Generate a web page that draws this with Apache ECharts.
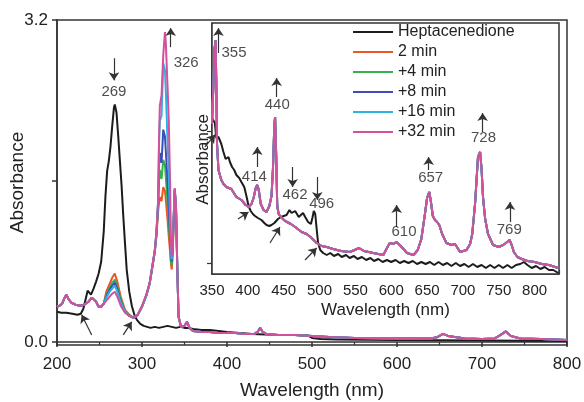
<!DOCTYPE html>
<html><head><meta charset="utf-8">
<script src="https://cdn.jsdelivr.net/npm/echarts@6/dist/echarts.min.js"></script>
<style>html,body{margin:0;padding:0;background:#fff}#c{width:584px;height:402px}</style>
</head><body><div id="c"></div>
<script>
// ---------------- DATA ----------------
const seriesNames = ['Heptacenedione', '2 min', '+4 min', '+8 min', '+16 min', '+32 min'];

// Main panel: Heptacenedione [nm, absorbance]
const mainBlack = [[200,0.30],[205,0.29],[211,0.29],[218,0.28],[224,0.27],[228,0.28],[231,0.33],[233,0.40],[236,0.51],[238,0.49],[240,0.47],[243,0.53],[246,0.60],[249,0.68],[252,0.80],[255,1.10],[257,1.45],[259,1.70],[261,1.80],[263,1.95],[265,2.15],[267,2.33],[268,2.36],[270,2.28],[272,2.05],[274,1.80],[276,1.55],[278,1.25],[280,0.98],[282,0.72],[285,0.50],[288,0.36],[291,0.27],[294,0.22],[298,0.18],[302,0.16],[306,0.15],[310,0.14],[315,0.15],[320,0.14],[325,0.15],[330,0.16],[335,0.15],[340,0.14],[345,0.15],[350,0.14],[355,0.14],[360,0.13],[370,0.12],[380,0.12],[400,0.10],[430,0.08],[460,0.07],[480,0.07],[495,0.065],[500,0.04],[510,0.03],[530,0.025],[600,0.02],[700,0.015],[800,0.01]];

// Main panel: irradiated spectra, shared short-wavelength part (curves overlap)
const mainColLeft = [[200,0.35],[203,0.36],[206,0.38],[209,0.44],[211,0.47],[214,0.42],[217,0.39],[222,0.37],[227,0.36],[232,0.37],[237,0.40],[241,0.44],[243,0.45],[246,0.40],[249,0.35],[252,0.35],[255,0.38]];
// per-series middle parts
const main2min = [[258,0.50],[262,0.58],[265,0.64],[268,0.68],[271,0.60],[275,0.45],[280,0.32],[285,0.27],[290,0.24],[295,0.27],[300,0.35],[305,0.46],[309,0.58],[312,0.73],[315,0.89],[317,1.05],[319,1.30],[320,1.38],[321,1.44],[323,1.40],[325,1.54],[327,1.50],[328,1.42],[330,1.22],[331.5,1.05],[333,0.90],[334,0.78],[335,0.72],[336,0.85],[337.5,1.25],[338.5,1.50],[340,1.33],[341.5,0.74],[343,0.25],[346,0.15]];
const main4min = [[258,0.47],[262,0.54],[265,0.59],[268,0.62],[271,0.55],[275,0.42],[280,0.31],[285,0.27],[290,0.24],[295,0.27],[300,0.35],[305,0.46],[309,0.58],[312,0.74],[315,0.90],[317,1.07],[319,1.36],[320,1.60],[321,1.71],[323,1.62],[325,1.81],[327,1.76],[328,1.64],[330,1.40],[331.5,1.18],[333,0.98],[334,0.82],[335,0.76],[336,0.88],[337.5,1.27],[338.5,1.51],[340,1.34],[341.5,0.74],[343,0.25],[346,0.15]];
const main8min = [[258,0.45],[262,0.52],[265,0.56],[268,0.59],[271,0.52],[275,0.40],[280,0.30],[285,0.26],[290,0.24],[295,0.27],[300,0.35],[305,0.46],[309,0.58],[312,0.74],[315,0.90],[317,1.08],[319,1.38],[320,1.75],[321,1.88],[323,1.78],[325,2.11],[327,2.04],[328,1.90],[330,1.60],[331.5,1.35],[333,1.05],[334,0.87],[335,0.80],[336,0.92],[337.5,1.28],[338.5,1.52],[340,1.34],[341.5,0.75],[343,0.25],[346,0.15]];
const main16min = [[258,0.44],[262,0.50],[265,0.53],[268,0.56],[271,0.50],[275,0.39],[280,0.30],[285,0.26],[290,0.24],[295,0.27],[300,0.35],[305,0.46],[309,0.58],[312,0.74],[315,0.90],[317,1.09],[319,1.40],[320,1.95],[321,2.20],[323,2.25],[325,2.77],[327,2.70],[328,2.50],[330,2.00],[331.5,1.70],[333,1.20],[334,0.90],[335,0.82],[336,0.94],[337.5,1.29],[338.5,1.52],[340,1.35],[341.5,0.75],[343,0.25],[346,0.15]];
const main32min = [[258,0.41],[262,0.45],[265,0.48],[268,0.50],[271,0.45],[275,0.36],[280,0.29],[285,0.26],[290,0.24],[295,0.27],[300,0.36],[305,0.47],[309,0.59],[312,0.75],[315,0.91],[317,1.10],[319,1.41],[320,2.00],[321,2.35],[323,2.45],[325,2.85],[327,3.08],[328,2.98],[330,2.55],[331.5,2.20],[333,1.60],[334,1.00],[335,0.85],[336,0.95],[337.5,1.30],[338.5,1.53],[340,1.35],[341.5,0.75],[343,0.25],[346,0.15]];
// shared long-wavelength part (curves overlap)
const mainColTail = [[350,0.16],[353,0.20],[356,0.14],[360,0.11],[370,0.10],[380,0.10],[390,0.09],[400,0.09],[410,0.09],[420,0.08],[432,0.08],[436,0.10],[439,0.14],[442,0.10],[446,0.08],[460,0.07],[480,0.07],[500,0.06],[520,0.05],[550,0.04],[600,0.035],[640,0.035],[648,0.05],[654,0.08],[660,0.06],[668,0.05],[680,0.035],[700,0.03],[715,0.035],[722,0.07],[728,0.105],[734,0.06],[745,0.035],[770,0.03],[800,0.02]];

// Inset: Heptacenedione
const insetBlack = [[350,0.156],[352,0.155],[354,0.151],[356,0.136],[357.5,0.134],[359,0.137],[361,0.139],[363,0.130],[366,0.122],[369,0.115],[371,0.114],[373,0.117],[375,0.112],[378,0.107],[381,0.104],[384,0.099],[388,0.096],[391,0.092],[395,0.087],[398,0.078],[401,0.068],[404,0.063],[407,0.060],[410,0.058],[414,0.056],[419,0.054],[423,0.051],[426,0.049],[430,0.048],[433,0.049],[437,0.051],[442,0.055],[446,0.057],[450,0.058],[454,0.059],[458,0.064],[461,0.061],[463,0.059],[466,0.063],[468,0.062],[471,0.057],[473,0.058],[477,0.061],[480,0.057],[484,0.052],[488,0.050],[490,0.056],[492,0.063],[494,0.060],[496,0.045],[498,0.031],[501,0.024],[505,0.021],[510,0.019],[515,0.021],[520,0.018],[526,0.020],[531,0.017],[537,0.019],[542,0.016],[548,0.018],[553,0.015],[559,0.017],[565,0.014],[571,0.016],[576,0.013],[582,0.015],[588,0.012],[594,0.014],[600,0.012],[606,0.014],[612,0.011],[618,0.013],[624,0.011],[630,0.013],[636,0.010],[642,0.012],[648,0.010],[654,0.012],[660,0.009],[666,0.012],[672,0.009],[678,0.011],[684,0.008],[690,0.011],[696,0.008],[702,0.010],[708,0.007],[714,0.010],[720,0.007],[726,0.009],[732,0.006],[738,0.009],[744,0.006],[750,0.009],[756,0.006],[762,0.009],[768,0.006],[774,0.009],[780,0.010],[785,0.012],[790,0.009],[796,0.006],[802,0.008],[808,0.005],[814,0.007],[820,0.004],[826,0.004],[833,0.001]];
// Inset: irradiated spectra (all time points overlap within line width)
const insetIrradiated = [[350,0.150],[352,0.190],[353.5,0.225],[355,0.234],[356,0.190],[357,0.130],[359,0.104],[363,0.094],[366,0.090],[370,0.087],[377,0.085],[384,0.077],[391,0.074],[397,0.069],[401,0.067],[405,0.070],[408,0.076],[411,0.086],[413,0.089],[415,0.085],[418,0.070],[422,0.064],[426,0.062],[430,0.068],[433,0.078],[435,0.105],[437,0.150],[438,0.157],[439.5,0.120],[441,0.068],[443,0.060],[446,0.057],[452,0.053],[460,0.050],[466,0.047],[475,0.042],[482,0.040],[489,0.036],[496,0.031],[503,0.028],[510,0.027],[519,0.025],[530,0.023],[542,0.022],[549,0.024],[555,0.026],[562,0.023],[575,0.021],[589,0.019],[594,0.026],[598,0.031],[603,0.030],[607,0.032],[612,0.029],[617,0.025],[622,0.021],[631,0.019],[637,0.024],[642,0.035],[647,0.060],[650,0.076],[653,0.082],[655,0.074],[658,0.058],[661,0.054],[664,0.052],[667,0.049],[671,0.040],[677,0.031],[684,0.029],[689,0.030],[696,0.022],[705,0.024],[710,0.030],[713,0.040],[717,0.071],[721,0.117],[724,0.122],[726,0.105],[728,0.077],[731,0.055],[735,0.040],[742,0.029],[750,0.027],[756,0.029],[760,0.031],[765,0.034],[768,0.029],[771,0.022],[776,0.017],[782,0.015],[790,0.013],[800,0.012],[810,0.010],[820,0.009],[833,0.006]];

// Annotations: [text, nm, value]
const mainLabels = [['269', 267, 2.49], ['326', 352, 2.77]];
const insetLabels = [['355', 380.7, 0.221], ['440', 441, 0.169], ['414', 409, 0.097], ['462', 465.8, 0.079], ['496', 503, 0.070], ['610', 617.8, 0.042], ['657', 655, 0.096], ['728', 728.7, 0.136], ['769', 764.6, 0.044]];
// Arrows: [fromNm, fromVal, toNm, toVal]
const mainArrows = [[267, 2.82, 267, 2.60], [333.8, 2.93, 333.8, 3.12], [240.8, 0.07, 229, 0.27], [278, 0.07, 287.9, 0.20], [374, 1.94, 386, 2.06]];
const insetArrows = [[359, 0.221, 359, 0.246], [440.2, 0.177, 440.2, 0.196], [413.2, 0.107, 413.2, 0.127], [462.5, 0.107, 462.5, 0.087], [496.9, 0.097, 496.9, 0.074], [607.6, 0.047, 607.6, 0.069], [652.2, 0.104, 652.2, 0.117], [727.5, 0.142, 727.5, 0.161], [765.6, 0.052, 765.6, 0.072], [386.3, 0.055, 400.9, 0.062], [430.9, 0.031, 444.8, 0.047], [479.7, 0.014, 496, 0.026]];

const mainXTicks = [200, 800, 100];
const mainYTicks = [0, 1.6, 3.2];
const mainYLabels = [0, 3.2];
const insetYTicks = [0.011, 0.143];

// ---------------- CHART ----------------
const FONT = '"Liberation Sans", Arial, sans-serif';
const TXT = '#222';
const AX = '#333';
const colors = ['#1c1c1c', '#ef5423', '#35b04a', '#3d4eb8', '#2cb3e4', '#d2509c'];

const mainData = [mainBlack,
  mainColLeft.concat(main2min, mainColTail),
  mainColLeft.concat(main4min, mainColTail),
  mainColLeft.concat(main8min, mainColTail),
  mainColLeft.concat(main16min, mainColTail),
  mainColLeft.concat(main32min, mainColTail)];
const insetData = [insetBlack, insetIrradiated, insetIrradiated, insetIrradiated, insetIrradiated, insetIrradiated];

const series = [];
seriesNames.forEach((n, i) => {
  series.push({name: n, type: 'line', xAxisIndex: 0, yAxisIndex: 0, data: mainData[i],
    symbol: 'none', showSymbol: false, color: colors[i], lineStyle: {width: 2, color: colors[i]}, z: 2 + i * 0.01});
});
seriesNames.forEach((n, i) => {
  series.push({name: n, type: 'line', xAxisIndex: 1, yAxisIndex: 1, data: insetData[i],
    symbol: 'none', showSymbol: false, color: colors[i], lineStyle: {width: 2, color: colors[i]}, z: 5 + i * 0.01});
});

function arrowLines(arr) {
  return arr.map(a => [{coord: [a[0], a[1]]}, {coord: [a[2], a[3]]}]);
}
function labelPts(arr) {
  return arr.map(a => ({name: a[0], value: [a[1], a[2]]}));
}
const annStyle = {
  type: 'scatter', symbolSize: 1, itemStyle: {color: 'rgba(0,0,0,0)'}, silent: true,
  label: {show: true, position: 'inside', formatter: '{b}', fontSize: 15, color: TXT, fontFamily: FONT},
  markLine: {silent: true, symbol: ['none', 'arrow'], symbolSize: 8, label: {show: false},
    lineStyle: {color: '#333', width: 1.2, type: 'solid'}, emphasis: {disabled: true}, animation: false}
};
series.push(Object.assign({}, annStyle, {name: 'mainAnn', xAxisIndex: 0, yAxisIndex: 0, z: 10, data: labelPts(mainLabels),
  markLine: Object.assign({}, annStyle.markLine, {data: arrowLines(mainArrows)})}));
series.push(Object.assign({}, annStyle, {name: 'insetAnn', xAxisIndex: 1, yAxisIndex: 1, z: 10, data: labelPts(insetLabels),
  markLine: Object.assign({}, annStyle.markLine, {data: arrowLines(insetArrows)})}));

const option = {
  animation: false,
  textStyle: {fontFamily: FONT},
  grid: [
    {left: 57, top: 20, right: 17, bottom: 57, show: true, borderColor: AX, borderWidth: 1.5, containLabel: false, outerBoundsMode: 'none'},
    {left: 212, top: 23, right: 25, bottom: 128, show: true, borderColor: AX, borderWidth: 1.5, backgroundColor: '#fff', z: 3, containLabel: false, outerBoundsMode: 'none'}
  ],
  legend: {data: seriesNames, orient: 'vertical', left: 353, top: 24, padding: 0, itemWidth: 40, itemHeight: 2,
    icon: 'rect', itemGap: 4, z: 20, textStyle: {fontSize: 16, color: TXT, fontFamily: FONT, lineHeight: 16}},
  xAxis: [
    {type: 'value', gridIndex: 0, min: mainXTicks[0], max: mainXTicks[1], interval: mainXTicks[2],
      axisLine: {lineStyle: {color: AX, width: 1.5}}, axisTick: {length: 5, lineStyle: {color: AX, width: 1.5}},
      minorTick: {show: true, splitNumber: 2, length: 3, lineStyle: {color: AX, width: 1.2}},
      splitLine: {show: false}, axisLabel: {fontSize: 17, margin: 11, color: TXT, fontFamily: FONT},
      name: 'Wavelength (nm)', nameLocation: 'middle', nameGap: 36, nameMoveOverlap: false,
      nameTextStyle: {fontSize: 19, color: TXT, fontFamily: FONT}},
    {type: 'value', gridIndex: 1, min: 350, max: 834, interval: 50,
      axisLine: {lineStyle: {color: AX, width: 1.5}}, axisTick: {inside: true, length: 4, lineStyle: {color: AX, width: 1.2}},
      minorTick: {show: true, splitNumber: 2, length: 4, lineStyle: {color: AX, width: 1.2}},
      splitLine: {show: false}, axisLabel: {fontSize: 15, margin: 9, color: TXT, fontFamily: FONT, showMaxLabel: false},
      name: 'Wavelength (nm)', nameLocation: 'middle', nameGap: 28, nameMoveOverlap: false,
      nameTextStyle: {fontSize: 17, color: TXT, fontFamily: FONT}}
  ],
  yAxis: [
    {type: 'value', gridIndex: 0, min: -0.03, max: 3.2,
      axisLine: {show: true, lineStyle: {color: AX, width: 1.5}},
      axisTick: {show: true, length: 5, customValues: mainYTicks, lineStyle: {color: AX, width: 1.5}},
      splitLine: {show: false},
      axisLabel: {customValues: mainYLabels, formatter: v => v.toFixed(1), fontSize: 17, margin: 9, color: TXT, fontFamily: FONT},
      name: 'Absorbance', nameLocation: 'middle', nameGap: 30, nameMoveOverlap: false,
      nameTextStyle: {fontSize: 19, color: TXT, fontFamily: FONT}},
    {type: 'value', gridIndex: 1, min: 0, max: 0.251,
      axisLine: {show: true, lineStyle: {color: AX, width: 1.5}},
      axisTick: {show: true, length: 5, customValues: insetYTicks, lineStyle: {color: AX, width: 1.2}},
      splitLine: {show: false}, axisLabel: {show: false},
      name: 'Absorbance', nameLocation: 'middle', nameGap: 0, nameMoveOverlap: false,
      nameTextStyle: {fontSize: 17, color: TXT, fontFamily: FONT, padding: [0, 22, 0, 0]}}
  ],
  series: series
};
const chart = echarts.init(document.getElementById('c'), null, {renderer: 'canvas'});
chart.setOption(option);
</script></body></html>
